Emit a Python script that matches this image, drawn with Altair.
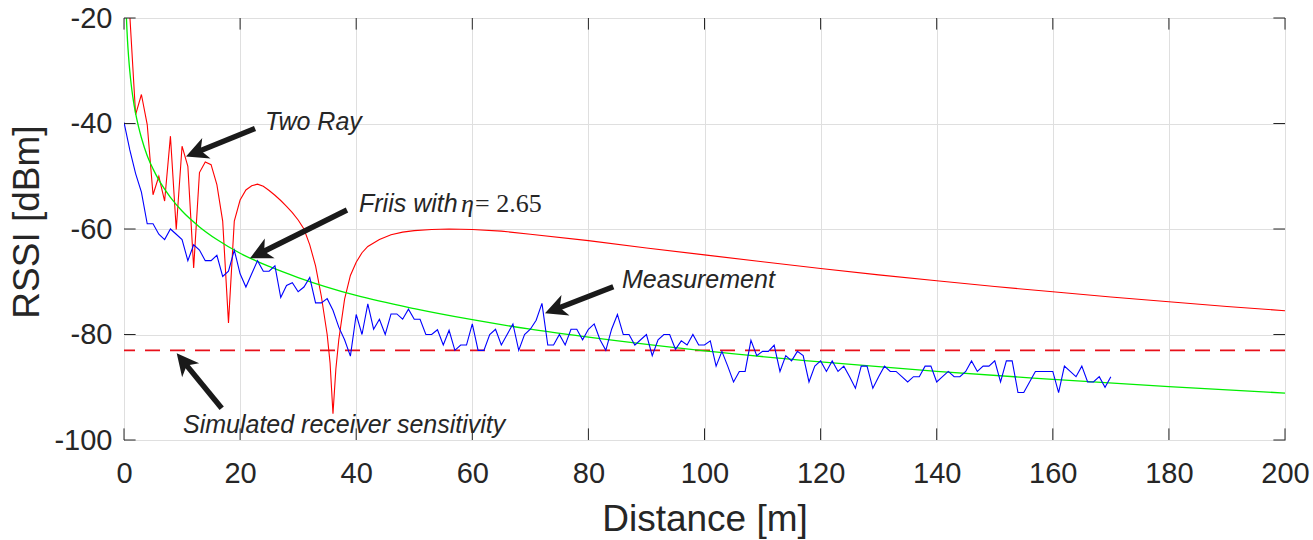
import math
import altair as alt
import pandas as pd

# ---------------------------------------------------------------- data
# Measured RSSI [dBm], one sample per metre from 0 m to 170 m
meas_rssi = [
    -39.8, -45, -49.5, -53, -59, -59, -61, -62, -60, -61,
    -62, -66, -63, -64, -66, -66, -65, -69, -68, -64,
    -68.5, -71, -68.5, -66, -68, -68, -67, -73, -70.7, -70.2,
    -71.9, -71, -69.2, -74, -74, -73.2, -75.4, -78.6, -81, -84.1,
    -76.2, -80, -74.2, -79, -77.1, -80, -76.1, -76.1, -77.1, -75.2,
    -77.1, -77.1, -80, -80, -79.1, -82, -79.2, -83, -82, -82,
    -78, -83, -83, -80, -79, -82, -80, -78, -83, -80,
    -79, -77.3, -74.1, -82, -82, -80, -82, -79, -79, -81,
    -79, -78, -81, -83, -79, -76.2, -80, -80, -82, -81,
    -80, -84, -81, -80, -80, -82.8, -81.2, -82, -80, -82,
    -82, -81.2, -86, -83.2, -86, -89, -87, -87, -81.1, -84,
    -83.2, -83.2, -82, -87, -84, -85, -83.2, -84, -89, -86,
    -85, -87, -85, -87, -86, -88, -90.2, -86, -86, -90.2,
    -88, -86, -87, -87, -88, -89, -88, -88, -86, -86,
    -89, -88, -87, -88, -88, -87, -85, -87, -86, -86,
    -85, -89, -85, -85, -91, -91, -89, -87, -87, -87,
    -87, -91, -86, -87, -88, -86, -89, -89, -88, -90,
    -88,
]
meas_dist = list(range(len(meas_rssi)))

# Two-ray ground reflection model
tworay_dist = [
    1, 2, 3, 4, 5, 6, 7, 8, 9, 10, 11, 12, 13, 14, 15, 16, 17, 18, 19,
    20, 21, 22, 23, 24, 25, 26, 27, 28, 29, 30, 31, 32, 33, 34, 35, 35.5,
    36, 36.5, 37, 38, 39, 40, 41, 42, 44, 46, 48, 50, 53, 56, 60, 65, 70,
    80, 90, 100, 110, 120, 130, 140, 150, 160, 170, 180, 190, 200,
]
tworay_rssi = [
    -19.5, -38.3, -34.5, -40.2, -53.5, -50.0, -54.7, -42.4, -60.1, -44.3,
    -48.1, -67.4, -49.3, -47.3, -47.8, -51.6, -58.5, -77.8, -58.5,
    -54.5, -52.6, -51.8, -51.5, -51.9, -52.7, -53.6, -54.6, -55.7, -56.9,
    -58.3, -60.0, -63.0, -67.0, -72.8, -80.0, -85.4,
    -95.0, -86.5, -81.0, -73.3, -68.8, -66.3, -64.5, -63.3, -62.0, -61.1,
    -60.6, -60.3, -60.1, -60.0, -60.1, -60.4, -61.0,
    -62.2, -63.6, -64.9, -66.2, -67.5, -68.7, -69.8, -70.9, -71.9, -72.9,
    -73.8, -74.7, -75.5,
]

# Log-distance (Friis) fit with path-loss exponent 2.65
friis_dist = [0.4, 0.5, 0.6, 0.8, 1, 1.25, 1.5, 2, 2.5, 3, 4, 5, 6, 8, 10,
              13, 16, 20, 25, 30, 40, 50, 60, 70, 80, 100, 120, 140, 160,
              180, 200]
friis_rssi = [-19.5, -22.1, -24.2, -27.5, -30.1, -32.7, -34.8, -38.1, -40.6,
              -42.7, -46.1, -48.6, -50.7, -54.0, -56.6, -59.6, -62.0, -64.6,
              -67.1, -69.2, -72.6, -75.1, -77.2, -79.0, -80.5, -83.1, -85.2,
              -87.0, -88.5, -89.9, -91.1]

sensitivity = [-83]

x_ticks = list(range(0, 201, 20))
y_ticks = list(range(-100, -19, 20))

# annotation arrows: tail and tip in data coordinates
arrow_tail_d = [22.57, 38.41, 84.29, 16.83]
arrow_tail_v = [-40.95, -56.40, -70.94, -93.99]
arrow_tip_d = [10.68, 21.71, 72.52, 9.08]
arrow_tip_v = [-46.26, -65.55, -75.98, -83.56]

# annotation labels (left edge / baseline in data coordinates)
label_text = ["Two Ray", "Friis with", "Measurement",
              "Simulated receiver sensitivity"]
label_d = [24.29, 40.48, 85.79, 10.16]
label_v = [-41.23, -56.72, -71.24, -98.58]

eta_sym = ["\u03b7"]
eta_sym_d = [58.05]
eta_value = ["= 2.65"]
eta_value_d = [60.46]
eta_v = [-56.72]

# ---------------------------------------------------------------- layout
W, H = 1161, 422
X_DOM = [0, 200]
Y_DOM = [-100, -20]
sx = W / (X_DOM[1] - X_DOM[0])
sy = H / (Y_DOM[1] - Y_DOM[0])
INK = "#262626"
TICK_PX = 11.6

xs = alt.Scale(domain=X_DOM, nice=False, zero=False)
ys = alt.Scale(domain=Y_DOM, nice=False, zero=False)

X = alt.X("d:Q", scale=xs, axis=alt.Axis(
    values=x_ticks, title="Distance [m]", labelExpr="'' + datum.value",
    labelFlush=False, labelOverlap=False, labelPadding=19,
    titleX=W / 2, titleY=90, titleBaseline="alphabetic"))
Y = alt.Y("v:Q", scale=ys, axis=alt.Axis(
    values=y_ticks, title="RSSI [dBm]", labelExpr="'' + datum.value",
    labelFlush=False, labelOverlap=False, labelPadding=12,
    titleAngle=270, titleX=-85.5, titleY=203.5,
    titleBaseline="alphabetic", titleAlign="center"))

meas_df = pd.DataFrame({"d": meas_dist, "v": meas_rssi})
tworay_df = pd.DataFrame({"d": tworay_dist, "v": tworay_rssi})
friis_df = pd.DataFrame({"d": friis_dist, "v": friis_rssi})
sens_df = pd.DataFrame({"v": sensitivity})

# inward tick marks on all four sides of the box
tick_rows = []
dx_t = TICK_PX / sx
dy_t = TICK_PX / sy
for t in y_ticks:
    tick_rows.append({"d": X_DOM[0], "d2": X_DOM[0] + dx_t, "v": t, "v2": t})
    tick_rows.append({"d": X_DOM[1] - dx_t, "d2": X_DOM[1], "v": t, "v2": t})
for t in x_ticks:
    tick_rows.append({"d": t, "d2": t, "v": Y_DOM[0], "v2": Y_DOM[0] + dy_t})
    tick_rows.append({"d": t, "d2": t, "v": Y_DOM[1] - dy_t, "v2": Y_DOM[1]})
ticks_df = pd.DataFrame(tick_rows)

# arrow shafts stop inside the head; heads are rotated to the shaft direction
HEAD_LEN = 22
SHAFT_BACK = 14
shaft_rows, head_rows = [], []
for td, tv, hd, hv in zip(arrow_tail_d, arrow_tail_v, arrow_tip_d, arrow_tip_v):
    px = (hd - td) * sx
    py = -(hv - tv) * sy
    L = math.hypot(px, py)
    ux, uy = px / L, py / L
    end_d = hd - SHAFT_BACK * ux / sx
    end_v = hv + SHAFT_BACK * uy / sy
    shaft_rows.append({"d": td, "v": tv, "d2": end_d, "v2": end_v})
    ang = math.degrees(math.atan2(px, -py)) % 360
    head_rows.append({"d": hd, "v": hv, "ang": ang})
shaft_df = pd.DataFrame(shaft_rows)
head_df = pd.DataFrame(head_rows)

labels_df = pd.DataFrame({"d": label_d, "v": label_v, "label": label_text})
eta_sym_df = pd.DataFrame({"d": eta_sym_d, "v": eta_v, "label": eta_sym})
eta_val_df = pd.DataFrame({"d": eta_value_d, "v": eta_v, "label": eta_value})

# ---------------------------------------------------------------- layers
sens_layer = alt.Chart(sens_df).mark_rule(
    color="#e8101a", strokeWidth=1.6, strokeDash=[15, 10]
).encode(y=Y)

tworay_layer = alt.Chart(tworay_df).mark_line(
    color="#ff0000", strokeWidth=1.1, clip=True
).encode(x=X, y=Y, order="d:Q")

friis_layer = alt.Chart(friis_df).mark_line(
    color="#00ee00", strokeWidth=1.3, clip=True, interpolate="monotone"
).encode(x=X, y=Y, order="d:Q")

meas_layer = alt.Chart(meas_df).mark_line(
    color="#0000ff", strokeWidth=1.1, clip=True
).encode(x=X, y=Y, order="d:Q")

tick_layer = alt.Chart(ticks_df).mark_rule(color=INK, strokeWidth=1).encode(
    x=X, y=Y, x2="d2:Q", y2="v2:Q")

shaft_layer = alt.Chart(shaft_df).mark_rule(
    color="#1a1a1a", strokeWidth=5.5).encode(x=X, y=Y, x2="d2:Q", y2="v2:Q")

head_layer = alt.Chart(head_df).mark_point(
    shape="M0,0L-0.5,1L0,0.72L0.5,1Z", size=(2 * HEAD_LEN) ** 2,
    filled=True, color="#1a1a1a", opacity=1, strokeWidth=0
).encode(x=X, y=Y, angle=alt.Angle("ang:Q", scale=None))

label_layer = alt.Chart(labels_df).mark_text(
    align="left", baseline="alphabetic", font="Liberation Sans",
    fontStyle="italic", fontSize=25, color=INK
).encode(x=X, y=Y, text="label:N")

eta_sym_layer = alt.Chart(eta_sym_df).mark_text(
    align="left", baseline="alphabetic", font="Liberation Serif",
    fontStyle="italic", fontSize=26, color=INK
).encode(x=X, y=Y, text="label:N")

eta_val_layer = alt.Chart(eta_val_df).mark_text(
    align="left", baseline="alphabetic", font="Liberation Serif",
    fontSize=26, color=INK
).encode(x=X, y=Y, text="label:N")

chart = alt.layer(
    sens_layer, tworay_layer, friis_layer, meas_layer, tick_layer,
    shaft_layer, head_layer, label_layer, eta_sym_layer, eta_val_layer
).properties(
    width=W, height=H,
    padding={"left": 124, "top": 18, "right": 28, "bottom": 100},
    autosize=alt.AutoSizeParams(type="none"),
    background="white",
).configure_view(
    stroke=INK, strokeWidth=1
).configure_axis(
    grid=True, gridColor="#dfdfdf", gridWidth=1, domain=False, ticks=False,
    labelFont="Liberation Sans", labelFontSize=29, labelColor=INK,
    titleFont="Liberation Sans", titleFontSize=37, titleFontWeight="normal",
    titleColor=INK,
)

chart.save("out.html", embed_options={"renderer": "svg", "actions": False})
